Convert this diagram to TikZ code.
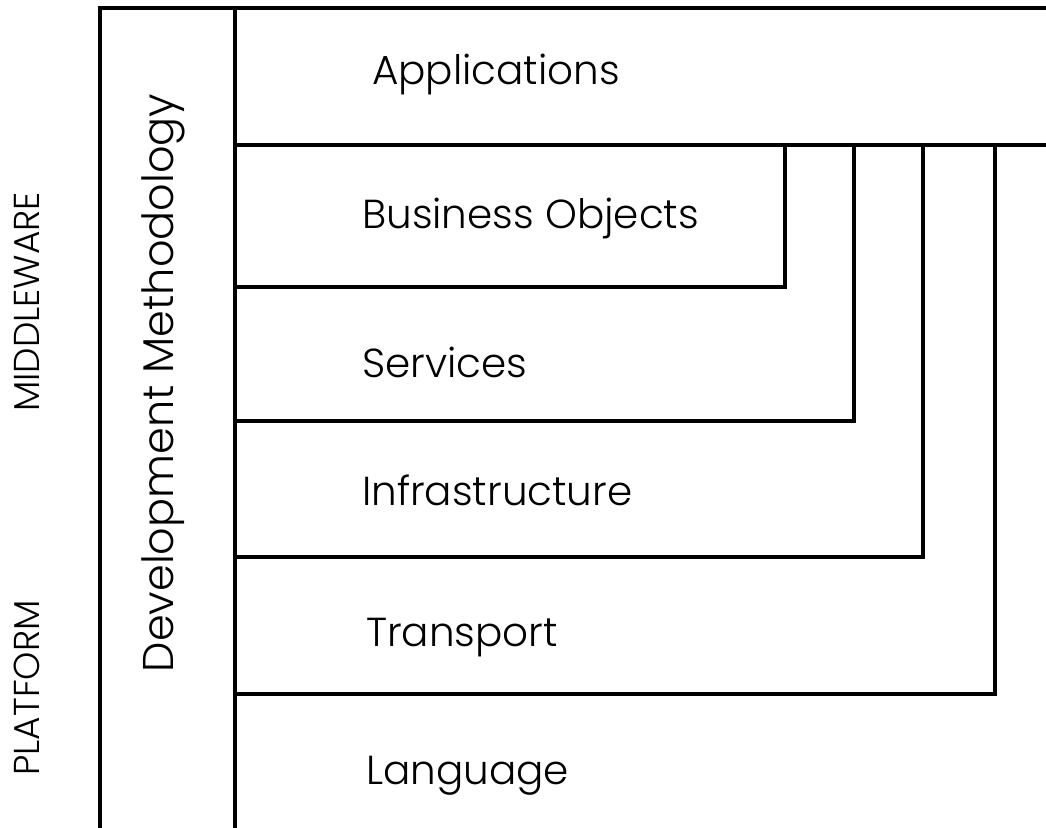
\documentclass[tikz,border=0pt]{standalone}
\usepackage{fontspec}
\setmainfont{Poppins}[UprightFont=* Light]
\begin{document}
\begin{tikzpicture}[x=1pt,y=-1pt,
  frame/.style={line width=3.6pt,line cap=rect,line join=miter},
  layer/.style={anchor=west,inner sep=0pt,font=\fontsize{40.5}{42}\selectfont},
  side/.style={rotate=90,inner sep=0pt,font=\fontsize{43}{45}\selectfont}]
\useasboundingbox (0,0) rectangle (1046,827);
\fill[white] (0,0) rectangle (1046,827);
% outer frame and the methodology column
\draw[frame] (100,830) -- (100,8) -- (1050,8);
\draw[frame] (235,8) -- (235,830);
% layer boundaries
\draw[frame] (235,145) -- (1050,145);
\draw[frame] (235,287) -- (785,287) -- (785,145);
\draw[frame] (235,421) -- (854,421) -- (854,145);
\draw[frame] (235,557) -- (923,557) -- (923,145);
\draw[frame] (235,694) -- (995,694) -- (995,145);
% layer labels
\node[layer] (app) at (372,74) {Applications};
\node[layer] (bo) at (362,218) {Business Objects};
\node[layer] (svc) at (362,362) {Services};
\node[layer] (inf) at (362,490) {Infrastructure};
\node[layer] (tra) at (366,638) {Transport};
\node[layer] (lan) at (366,776) {Language};
% vertical labels
\node[side] (dm) at (163,383) {Development Methodology};
\node[side,font=\fontsize{36}{38}\selectfont] (mw) at (27,302) {MIDDLEWARE};
\node[side,font=\fontsize{36}{38}\selectfont] (pf) at (27,688) {PLATFORM};
\end{tikzpicture}
\end{document}
